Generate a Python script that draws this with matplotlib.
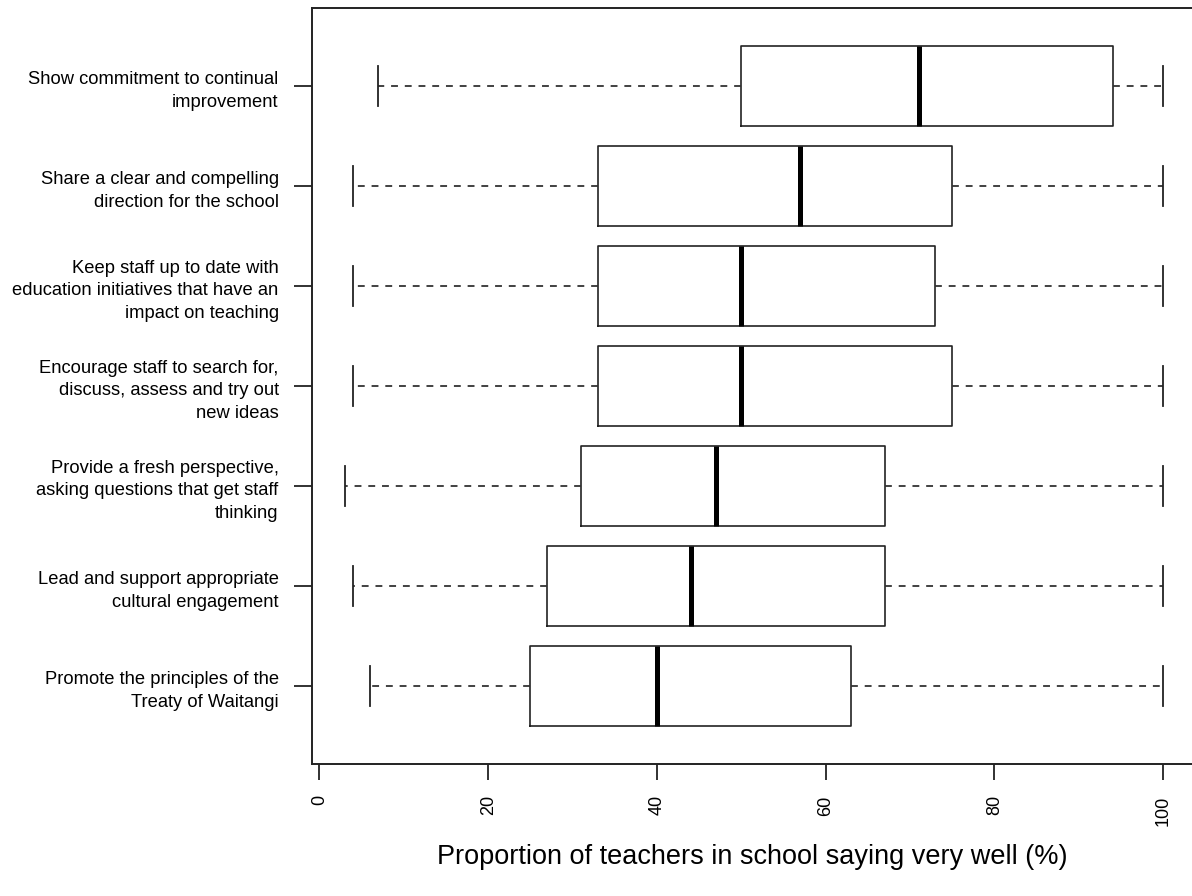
import matplotlib
matplotlib.use("Agg")
import matplotlib.pyplot as plt
import numpy as np

plt.rcParams['font.family'] = ['Liberation Sans', 'DejaVu Sans']

# items, listed top to bottom as in the chart
labels = [
    "Show commitment to continual\nimprovement",
    "Share a clear and compelling\ndirection for the school",
    "Keep staff up to date with\neducation initiatives that have an\nimpact on teaching",
    "Encourage staff to search for,\ndiscuss, assess and try out\nnew ideas",
    "Provide a fresh perspective,\nasking questions that get staff\nthinking",
    "Lead and support appropriate\ncultural engagement",
    "Promote the principles of the\nTreaty of Waitangi",
]
whislo = [7, 4, 4, 4, 3, 4, 6]
q1 = [50, 33, 33, 33, 31, 27, 25]
med = [71, 57, 50, 50, 47, 44, 40]
q3 = [94, 75, 73, 75, 67, 67, 63]
whishi = [100, 100, 100, 100, 100, 100, 100]
xticks = [0, 20, 40, 60, 80, 100]

n = len(labels)
positions = np.arange(n, 0, -1)
stats = [dict(whislo=a, q1=b, med=c, q3=d, whishi=e, fliers=[])
         for a, b, c, d, e in zip(whislo, q1, med, q3, whishi)]

fig = plt.figure(figsize=(11.92, 8.96), dpi=100)
ax = fig.add_axes([312 / 1192, 1 - 764 / 896, 884 / 1192, 756 / 896])

ax.bxp(stats, positions=positions, widths=0.8, capwidths=0.4,
       orientation='horizontal', showfliers=False,
       boxprops=dict(color='#222222', linewidth=1.2),
       medianprops=dict(color='black', linewidth=3.6, solid_capstyle='butt'),
       whiskerprops=dict(color='#333333', linewidth=1.3, linestyle=(0, (3.8, 3.8))),
       capprops=dict(color='#222222', linewidth=1.3))

ax.set_xlim(-0.88, 103.88)
ax.set_ylim(0.22, 7.78)

ax.set_yticks(positions)
ax.set_yticklabels(labels, fontsize=13.2, linespacing=1.45)
ax.set_xticks(xticks)
ax.set_xticklabels([str(t) for t in xticks], rotation=90, fontsize=13)
ax.tick_params(axis='y', length=13, width=1.3, pad=11, colors='#222222')
ax.tick_params(axis='x', length=11.5, width=1.3, pad=11, colors='#222222')
for lab in ax.get_xticklabels() + ax.get_yticklabels():
    lab.set_color('black')

for side in ['left', 'bottom', 'top', 'right']:
    ax.spines[side].set_linewidth(1.4)
    ax.spines[side].set_color('#222222')

fig.text(752 / 1192, 1 - 857 / 896, "Proportion of teachers in school saying very well (%)",
         ha='center', va='center', fontsize=19.5)

fig.savefig("out.png", dpi=100)
